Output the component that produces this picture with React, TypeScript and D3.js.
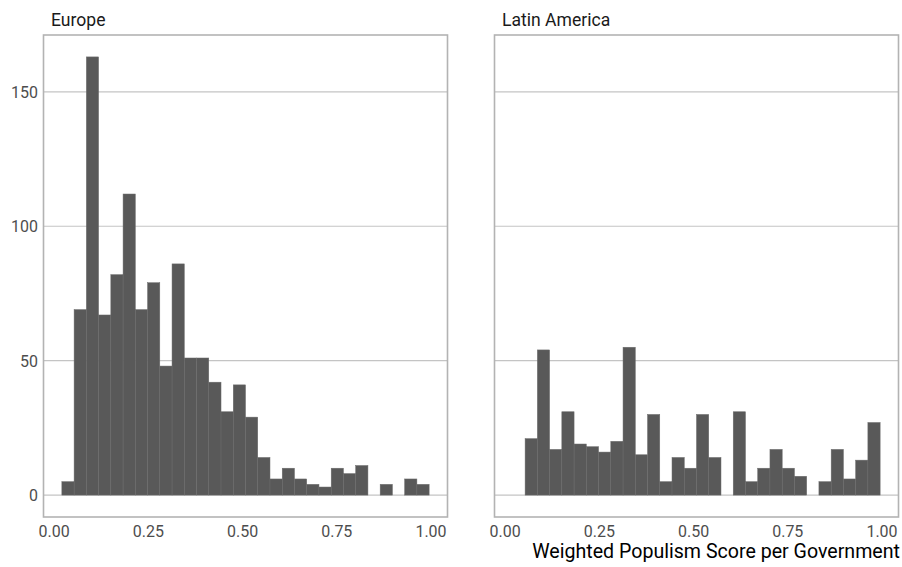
import React from 'react';
import * as d3 from 'd3';

// histogram counts per bin (30 bins, shared edges)
const binStart = 0.0204;
const binWidth = 0.03249;
const europeCounts = [5, 69, 163, 67, 82, 112, 69, 79, 48, 86, 51, 51, 42, 31, 41, 29, 14, 6, 10, 6, 4, 3, 10, 8, 11, 0, 4, 0, 6, 4];
const latinCounts = [0, 21, 54, 17, 31, 19, 18, 16, 20, 55, 15, 30, 5, 14, 10, 30, 14, 0, 31, 5, 10, 17, 10, 7, 0, 5, 17, 6, 13, 27];
const panelNames = ['Europe', 'Latin America'];
const xTicks = [0, 0.25, 0.5, 0.75, 1];
const yTicks = [0, 50, 100, 150];
const xTitle = 'Weighted Populism Score per Government';

const W = 902;
const H = 567;
const panelTop = 35;
const panelBottom = 517;
const panelW = 404;
const panelLefts = [43.5, 494.5];
const font = 'Roboto, sans-serif';

// squeeze text horizontally around an anchor point (mimics a condensed face)
const squeeze = (ax: number, s: number) => `translate(${ax},0) scale(${s},1) translate(${-ax},0)`;

const App = () => {
  const series = [europeCounts, latinCounts];
  const binEnd = binStart + binWidth * europeCounts.length;
  const pad = (binEnd - binStart) * 0.05;
  const maxCount = d3.max([...europeCounts, ...latinCounts]) as number;

  const y = d3.scaleLinear()
    .domain([-maxCount * 0.05, maxCount * 1.05])
    .range([panelBottom, panelTop]);

  return (
    <svg width={W} height={H} style={{ display: 'block', position: 'absolute', left: 0, top: 0 }}>
      <rect width={W} height={H} fill="#fff" />
      {series.map((counts, pi) => {
        const left = panelLefts[pi];
        const x = d3.scaleLinear()
          .domain([binStart - pad, binEnd + pad])
          .range([left, left + panelW]);
        return (
          <g key={pi}>
            {/* grid */}
            {yTicks.map(t => (
              <line key={t} x1={left} x2={left + panelW} y1={y(t)} y2={y(t)}
                stroke="#c4c4c4" strokeWidth={1.2} />
            ))}
            {/* bars */}
            {counts.map((c, i) => c > 0 && (
              <rect key={i}
                x={x(binStart + i * binWidth)}
                width={x(binStart + (i + 1) * binWidth) - x(binStart + i * binWidth)}
                y={y(c)}
                height={y(0) - y(c)}
                fill="#595959" stroke="#6b6b6b" strokeWidth={0.5} />
            ))}
            {/* border */}
            <rect x={left} y={panelTop} width={panelW} height={panelBottom - panelTop}
              fill="none" stroke="#b3b3b3" strokeWidth={1.6} />
            {/* strip */}
            <text x={left + 7.5} y={26} fontFamily={font} fontSize={18.5} fill="#1a1a1a"
              transform={squeeze(left + 7.5, 0.95)}>
              {panelNames[pi]}
            </text>
            {/* x ticks */}
            {xTicks.map(t => (
              <text key={t} x={x(t)} y={537} textAnchor="middle" fontFamily={font}
                fontSize={17} fill="#4d4d4d" transform={squeeze(x(t), 0.94)}>
                {d3.format('.2f')(t)}
              </text>
            ))}
            {/* y ticks */}
            {pi === 0 && yTicks.map(t => (
              <text key={t} x={38} y={y(t)} dy="0.35em" textAnchor="end" fontFamily={font}
                fontSize={17} fill="#4d4d4d" transform={squeeze(38, 0.94)}>
                {t}
              </text>
            ))}
          </g>
        );
      })}
      <text x={900} y={558} textAnchor="end" fontFamily={font} fontSize={20} fill="#000"
        transform={squeeze(900, 0.98)}>
        {xTitle}
      </text>
    </svg>
  );
};

export default App;
